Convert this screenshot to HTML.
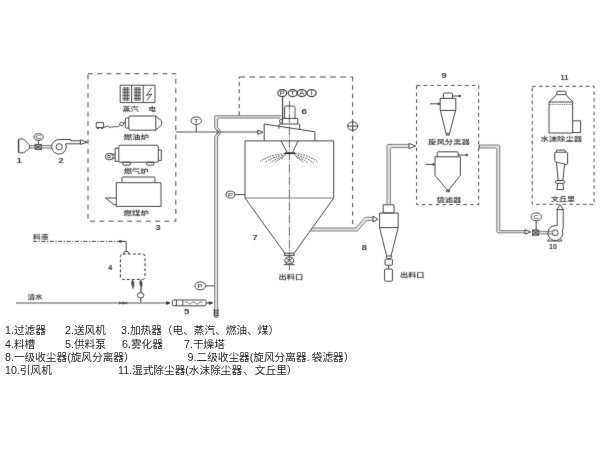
<!DOCTYPE html>
<html lang="zh-CN">
<head>
<meta charset="utf-8">
<title>喷雾干燥工艺流程图</title>
<style>
html,body{margin:0;padding:0;background:#fff;width:600px;height:450px;overflow:hidden}
#wrap{position:relative;width:600px;height:450px;background:#fff;overflow:hidden}
svg{position:absolute;left:0;top:0;display:block}
svg text{font-family:"Liberation Sans","Noto Sans CJK SC",sans-serif;stroke:none}
.legend{position:absolute;left:0;top:0;font-family:"Liberation Sans","Noto Sans CJK SC",sans-serif;font-size:10.67px;line-height:13.33px;color:#262626;font-weight:400;white-space:nowrap;opacity:0.999}
.legend span{position:absolute;white-space:nowrap}
.legend i{font-style:normal;display:inline-block}
</style>
</head>
<body>
<div id="wrap">
<svg width="600" height="450" viewBox="0 0 600 450">
<defs>
<filter id="bl" x="0" y="0" width="600" height="450" filterUnits="userSpaceOnUse" color-interpolation-filters="sRGB"><feConvolveMatrix order="3" kernelMatrix="0.0052 0.0619 0.0052 0.0619 0.7314 0.0619 0.0052 0.0619 0.0052" edgeMode="duplicate" preserveAlpha="false"/></filter>
<filter id="bt" x="0" y="0" width="600" height="450" filterUnits="userSpaceOnUse" color-interpolation-filters="sRGB"><feConvolveMatrix order="3" kernelMatrix="0.0113 0.0838 0.0113 0.0838 0.6193 0.0838 0.0113 0.0838 0.0113" edgeMode="duplicate" preserveAlpha="false"/></filter>
</defs>
<rect width="600" height="450" fill="#fff"/>
<g id="lines" fill="none" stroke="#444" stroke-width="1" stroke-linejoin="round" filter="url(#bl)">

<g id="pipefill" stroke="#e2e2e2" stroke-width="3" stroke-linejoin="round" fill="none">
<path d="M216.2,309 V136.8 L219.4,132 L216.2,127.6 V117.9 Q216.2,116.9 217.2,116.9 H281"/>
<path d="M310.6,229.5 H356.8 L365.8,218.9 H373"/>
<path d="M388.7,204.8 V147 Q388.7,146 389.7,146 H409"/>
<path d="M478.8,146.5 H497.3 Q498.3,146.5 498.3,147.5 V231.7 H525"/>
<path d="M29.6,146.7 H35 M41.4,146.7 H52 M538.8,232.7 H551.6"/>
</g>
<!-- 1 filter -->
<g id="eq-filter">
<path d="M18.4,139.8 Q18.4,139 19.4,139 L23.6,139 L29.6,145.2 L29.6,148.2 L23.6,152.8 L19.4,152.8 Q18.4,152.8 18.4,152 Z"/>
<path d="M18.6,139.4 V152.6" stroke-width="1.4"/>
<path d="M29.6,145.4 H35 M29.6,148 H35" stroke="#808080"/>
</g>
<!-- valve + C -->
<g id="eq-valve1">
<rect x="35" y="144.6" width="6.4" height="4.8" fill="#bbb"/>
<path d="M35,144.6 L41.4,149.4 M41.4,144.6 L35,149.4"/>
<path d="M38.4,140.4 V144.6"/>
<ellipse cx="38.6" cy="137" rx="4.6" ry="3.3"/>
<path d="M41.4,145.4 H51.6 M41.4,148 H52" stroke="#808080"/>
</g>
<!-- 2 fan -->
<g id="eq-fan1">
<path d="M65.6,143.8 A7.3,7.3 0 1 1 59.1,139.5 H70.8 V140.8 H80.4"/>
<path d="M65.6,143.8 H80.4"/>
<circle cx="59.2" cy="146.8" r="3.1"/>
<path d="M80.4,140 L87.6,142.2 L80.4,144.4 Z"/>
</g>

<!-- box 3 -->
<path d="M88,73.7 H175.8 V221.2 H88 Z" stroke="#4a4a4a" stroke-width="1" stroke-dasharray="4.8 4.5"/>

<!-- steam / electric -->
<g id="eq-steam">
<rect x="120.2" y="85.2" width="34.8" height="17.4"/>
<path d="M131.6,85.2 V102.6 M143.2,85.2 V102.6"/>
<path d="M124.8,87 V101 M127.4,87 V101 M136.2,87 V101 M138.8,87 V101" stroke-width="0.8"/>
<path d="M122.4,88 h7.2 M122.4,89.5 h7.2 M122.4,91 h7.2 M122.4,92.5 h7.2 M122.4,94 h7.2 M122.4,95.5 h7.2 M122.4,97 h7.2 M122.4,98.5 h7.2 M122.4,100 h7.2" stroke-width="0.8" stroke="#484848"/>
<path d="M133.8,88 h7.2 M133.8,89.5 h7.2 M133.8,91 h7.2 M133.8,92.5 h7.2 M133.8,94 h7.2 M133.8,95.5 h7.2 M133.8,97 h7.2 M133.8,98.5 h7.2 M133.8,100 h7.2" stroke-width="0.8" stroke="#484848"/>
<path d="M151.6,88 L146.4,95.4 L151.8,94 L146.6,100.6"/>
</g>

<!-- oil furnace -->
<g id="eq-oil">
<path d="M130,116 H155.8 L161.6,121 V124.8 L155.8,130.2 H130 Q128.8,130.2 128.8,129 V117.2 Q128.8,116 130,116 Z"/>
<path d="M128.8,118 H126.4 Q125.4,118 125.4,119 V127 Q125.4,128 126.4,128 H128.8"/>
<path d="M155.8,116 V130.2"/>
<ellipse cx="121.6" cy="124" rx="2" ry="1.6"/>
<path d="M123.4,123.2 L125.4,122.4"/>
<rect x="96.2" y="122.6" width="7.4" height="5"/>
<path d="M97,128.4 H98.8 M101,128.4 H102.8" stroke-width="1.2"/>
<path d="M103.6,127.4 L106,126.8 Q107.4,125.4 108.8,126.8 T111.6,126.8 L113.4,127 Q114.8,125.6 116.2,127 L119.6,125.6"/>
</g>

<!-- gas furnace -->
<g id="eq-gas">
<rect x="118.8" y="145.2" width="39.5" height="17" rx="1.2"/>
<path d="M118.8,148.2 H115.2 V161.4 H118.8 M158.3,150 H161.3 V160.4 H158.3"/>
<rect x="122.8" y="162.2" width="7.5" height="3" rx="0.8"/>
<rect x="146.7" y="162.2" width="7" height="3" rx="0.8"/>
<ellipse cx="109.3" cy="156.6" rx="4" ry="3.2"/>
<ellipse cx="109" cy="156.6" rx="1.7" ry="1.2"/>
<path d="M110.6,153.6 L115.2,154.6 M111.6,159.2 L115.2,157.6"/>
</g>

<!-- coal furnace -->
<g id="eq-coal">
<path d="M122,182.7 V178 Q122,177 123,177 H154 Q155,177 155,178 V182.7"/>
<rect x="116.3" y="182.7" width="44.7" height="23.7"/>
<path d="M116.3,198 H105.4 L114,204.6 L116.3,205"/>
</g>

<!-- T instrument and line 3 -> tower -->
<g id="lineT">
<path d="M175.8,132 H258" stroke="#555"/>
<path d="M257.8,130.2 L263,132.2 L257.8,134.4 Z"/>
<path d="M196.2,124.4 V132"/>
<ellipse cx="196.2" cy="120.7" rx="5.2" ry="3.8"/>
</g>

<!-- feed pipe (double line) -->
<g id="feedpipe" stroke="#808080">
<path d="M214.7,309 V136.6 L217.7,132 L214.7,128 V116.8 Q214.7,115.7 215.7,115.7 H281.6"/>
<path d="M217.6,309 V137 L221.2,132 L217.6,127.4 V119 Q217.6,118 218.6,118 H280"/>
<path d="M217,129.6 Q220,132 217,134.6" stroke="#555"/>
<ellipse cx="281" cy="121.2" rx="1.6" ry="1.8" stroke="#555"/>
<path d="M213.4,310.2 h5.4 M213.8,312 h4.6 M213.4,313.8 h5.4 M213.8,315.6 h4.6 M214.6,317.2 h3" stroke="#444"/>
<path d="M214.4,309 V316.8 M217.8,309 V316.8" stroke="#444"/>
</g>

<!-- P instrument on pipe -->
<g id="pipeP">
<ellipse cx="200.2" cy="285.9" rx="5.3" ry="4"/>
<path d="M205.5,285.9 H214.7"/>
</g>

<!-- control dashed loop -->
<g id="loop">
<path d="M239.2,115.6 V77" stroke-dasharray="4.2 3.2"/>
<path d="M239.2,77 H352.7" stroke-dasharray="5.8 4.3"/>
<path d="M352.7,77 V228" stroke-dasharray="4.4 4"/>
<ellipse cx="352.7" cy="126.1" rx="5" ry="4.3"/>
<path d="M347,126.1 H358.4 M352.7,121 V131.4"/>
</g>

<!-- instruments P T A I -->
<g id="ptai" stroke="#333" stroke-width="1.1">
<ellipse cx="282.3" cy="93.1" rx="4.5" ry="3.5"/>
<ellipse cx="292.7" cy="93.1" rx="4.5" ry="3.5"/>
<ellipse cx="301.8" cy="93.1" rx="4.5" ry="3.5"/>
<ellipse cx="311.6" cy="93.1" rx="4.6" ry="3.5"/>
<path d="M282.6,96.6 V119.6"/>
</g>

<!-- 7 tower -->
<g id="tower">
<path d="M245,140.9 H333.7 V198 L294.2,253.2 M245,140.9 V198 L284.8,253.2"/>
<path d="M245,198 H333.7" stroke-width="0.7"/>
<path d="M264.2,140.9 V124 L314.9,131.8 V140.9"/>
<path d="M279,128.7 V125 Q279,124 280,124 H298.6 Q299.7,124 299.7,125 V129.8"/>
<path d="M282.3,124 V118.4 H297.7 V124"/>
<path d="M284.6,118.4 V107.4 Q284.6,106 286,106 H293.6 Q295,106 295,107.4 V118.4"/>
<path d="M289.4,101 V270" stroke-dasharray="9 1.2 1.2 1.2" stroke-width="0.8"/>
<path d="M281.2,141 L287,152 M298,141 L292.8,152"/>
<path d="M285,153.2 H295" stroke="#222" stroke-width="1.8"/>
<path d="M285,153.6 Q270,154.4 260,161.6 M285.6,155 Q273,156.6 264.6,162.6 M284,156.6 Q276,158.6 270.6,162.6 M283,158 Q278,159.6 275,162.8" stroke-dasharray="1.6 1.2" stroke-width="1" stroke="#333"/>
<path d="M295,153.6 Q309,154.6 318,162.4 M294.6,155 Q306,156.8 313.6,163 M296,156.6 Q303,158.6 308,163 M297,158 Q301,159.8 304,163" stroke-dasharray="1.6 1.2" stroke-width="1" stroke="#333"/>
<path d="M234.8,194.6 H245"/>
<ellipse cx="230.4" cy="194.6" rx="4.4" ry="3.5"/>
<path d="M284.2,253.2 H294.4 M284.2,255.4 H294.4 M284.8,253.2 V255.4 M294,253.2 V255.4"/>
<ellipse cx="289.3" cy="260.4" rx="4.4" ry="3.5"/>
<path d="M286.2,258 L292.4,262.8 M292.4,258 L286.2,262.8"/>
<path d="M283.7,264.7 H294.8"/>
</g>

<!-- tower -> cyclone pipe -->
<g id="pipe78" stroke="#808080">
<path d="M311.6,228 H356 L365,217.2 H373"/>
<path d="M309.4,231 H357.6 L366.6,220.6 H373"/>
<path d="M373,216.2 L378,219.4 L373,222 Z" stroke="#444"/>
</g>

<!-- 8 cyclone -->
<g id="cyc8">
<rect x="383.2" y="204.8" width="10.8" height="8.2"/>
<rect x="379.6" y="213" width="18.6" height="14.6"/>
<path d="M379.6,227.6 L386.6,256 M398.2,227.6 L391,256"/>
<path d="M386,256 H392 L390.6,258.6 H387.4 Z"/>
<rect x="385" y="259.2" width="7.4" height="6" rx="0.8"/>
<path d="M388.6,265.2 V269"/>
<rect x="384.6" y="269" width="7.8" height="12.2" rx="1"/>
</g>

<!-- cyclone -> box 9 pipe -->
<g id="pipe89" stroke="#808080">
<path d="M387,204.8 V145.4 Q387,144.4 388,144.4 H409"/>
<path d="M390.4,204.8 V148.4 Q390.4,147.6 391.4,147.6 H409"/>
<path d="M409,143.4 L415.8,146 L409,148.6 Z" stroke="#444"/>
</g>

<!-- box 9 -->
<path d="M416.6,85.4 H478.7 V204.6 H416.6 Z" stroke="#484848" stroke-dasharray="3.6 3.3"/>
<g id="cyc9">
<path d="M443.4,98.4 V94 Q443.4,93 444.4,93 H451.4 Q452.4,93 452.4,94 V98.4"/>
<rect x="440.2" y="98.4" width="15.6" height="12"/>
<path d="M440.4,110.4 L446,133.2 M455.6,110.4 L449.6,133.2"/>
<path d="M446.2,133.4 H449.4 V135.2 H446.2 Z"/>
<path d="M430,103.8 H438.6"/>
<path d="M438.2,102.8 L440,103.8 L438.2,104.8 Z" fill="#444"/>
<path d="M452.4,96 H459.6"/>
<path d="M459.2,95 L461,96 L459.2,97 Z" fill="#444"/>
</g>
<g id="bag">
<path d="M437.2,156.8 V152.8 Q437.2,151.8 438.2,151.8 H457.2 Q458.2,151.8 458.2,152.8 V156.8"/>
<path d="M435,156.8 H460.4 V175.4 L448.6,190.2 H447.4 L435,175.4 Z"/>
<path d="M446.6,190.4 H449.6 V191.8 H446.6 Z"/>
<path d="M425.4,164.4 H433.4"/>
<path d="M433,163.4 L434.8,164.4 L433,165.4 Z" fill="#444"/>
<path d="M458.2,155 H466.6"/>
<path d="M466.2,154 L468,155 L466.2,156 Z" fill="#444"/>
</g>

<!-- box 9 -> fan 10 pipe -->
<g id="pipe910" stroke="#808080">
<path d="M478.8,145 H498.8 Q499.8,145 499.8,146 V230.6 H525"/>
<path d="M478.8,148 H495.8 Q496.8,148 496.8,149 V231.8 Q496.8,232.8 497.8,232.8 H525"/>
<path d="M479.2,145 V148" stroke="#444"/>
<path d="M525,229.6 L530.6,232 L525,234 Z" stroke="#444"/>
</g>

<!-- valve + C + fan 10 -->
<g id="fan10">
<rect x="532.6" y="230" width="6.2" height="5.2" fill="#bbb"/>
<path d="M532.6,230 L538.8,235.2 M538.8,230 L532.6,235.2"/>
<path d="M536.2,220.8 V230"/>
<ellipse cx="536.2" cy="216.8" rx="5.2" ry="4"/>
<path d="M538.8,231.4 H551.6 M538.8,234 H551.8" stroke="#808080"/>
<path d="M557.2,225.8 A7.5,7.5 0 1 0 562.4,230.4 L563.2,228 V209 M557.2,225.8 V209"/>
<circle cx="555.2" cy="232.7" r="3"/>
<path d="M557,209.6 L560.2,204.8 L563.4,209.6 Z"/>
<path d="M549.4,238.6 L547.7,241 H562 L560.4,238.6"/>
</g>

<!-- box 11 -->
<path d="M532.2,86.3 H594.1 V204.3 H532.2 Z" stroke="#484848" stroke-dasharray="3.6 3.1"/>
<g id="scrub">
<path d="M556.8,94.6 V92.2 Q556.8,91.3 557.8,91.3 H565 Q566,91.3 566,92.2 V94.6"/>
<path d="M556.8,94.6 H566 L572.7,102 V133 H549 V102 Z"/>
<path d="M549,102 H572.7"/>
<path d="M549.6,104.4 H572.4" stroke-dasharray="1.4 1" stroke-width="0.8"/>
<path d="M572.7,120.8 H580.6 V132.6 H572.7"/>
</g>
<g id="venturi">
<path d="M556.4,152.2 V150.9 Q556.4,150 557.3,150 H564.4 Q565.3,150 565.3,150.9 V152.2"/>
<path d="M554.7,153.2 Q554.7,152.2 555.7,152.2 H566.6 Q567.6,152.2 567.6,153.2 V164 Q566.4,165.2 564.6,164.6 L562.8,180.4 H558.2 L556.4,162.2 Q554.7,161.8 554.7,160.6 Z"/>
<path d="M556,162 L566,164.4"/>
<rect x="555.4" y="180.6" width="9.4" height="2.8" rx="1.3"/>
<path d="M557.8,183.4 L556.8,189.6 H563.8 L562.8,183.4"/>
</g>

<!-- feed: 料液 / tank 4 / pump / water -->
<g id="feed">
<path d="M33,241.4 H122" stroke-dasharray="4 1.6 1.2 1.6"/>
<path d="M119.6,240.2 L123.4,241.4 L119.6,242.6 Z" fill="#444" stroke-width="0.6"/>
<path d="M123,241.4 H126.2"/>
<path d="M126.2,241.4 V252"/>
<path d="M123.6,253.8 L124.4,251.6 H128 L128.8,253.8"/>
<rect x="120.4" y="254" width="24.6" height="25.4" rx="2.4" stroke="#333" stroke-dasharray="3 2"/>
<path d="M132.8,279.4 V281 l-1,0.8 l2,0.8 l-2,0.8 l2,0.8 l-2,0.8 l2,0.8 l-1,0.8 V288.4" stroke="#333" stroke-width="1.2"/>
<path d="M141,279.4 V281 l-1,0.8 l2,0.8 l-2,0.8 l2,0.8 l-2,0.8 l2,0.8 l-1,0.8 V292.6" stroke="#333" stroke-width="1.2"/>
<ellipse cx="140.6" cy="295.3" rx="3.2" ry="2.7"/>
<path d="M140.8,298 V303"/>
<path d="M16,303 H167" stroke="#555"/>
<path d="M119.4,301.9 V304.1 L122.8,301.9 V304.1 Z M123.6,301.9 V304.1 L127,301.9 V304.1 Z" stroke-width="0.7"/>
<path d="M166.6,301.8 L170,303 L166.6,304.2 Z" fill="#333" stroke="#333"/>
<rect x="172.4" y="300" width="33.7" height="5.8" rx="1.4"/>
<path d="M176.4,300 V305.8 M182.8,300 V305.8"/>
<path d="M184.6,303 q1.8,-2.4 3.6,0 t3.6,0 t3.6,0 t3.6,0 t3.6,0" stroke-width="0.7"/>
<path d="M206.2,303 H209"/>
<path d="M209.2,301.8 L212.6,303 L209.2,304.2 Z" fill="#333" stroke="#333"/>
</g>
</g>

<!-- diagram labels -->
<g id="labels" fill="#444" font-size="5.7" font-weight="700" filter="url(#bt)">
<g font-size="6.5" font-weight="700" fill="#363636" text-anchor="middle">
<text transform="translate(19.1,163) scale(1.5,1)">1</text>
<text transform="translate(61,163) scale(1.5,1)">2</text>
<text transform="translate(158,229.6) scale(1.5,1)">3</text>
<text transform="translate(110.2,269.6) scale(1.1,1)" fill="#222">4</text>
<text transform="translate(186.8,314.4) scale(1.5,1)">5</text>
<text transform="translate(304.3,114) scale(1.5,1)">6</text>
<text transform="translate(255,239.6) scale(1.5,1)">7</text>
<text transform="translate(364.3,249.7) scale(1.5,1)">8</text>
<text transform="translate(444,78) scale(1.5,1)">9</text>
<text transform="translate(564.4,80) scale(1.15,1)">11</text>
<text transform="translate(553,249.2) scale(1.08,1)">10</text>
</g>
<g font-size="6.2" font-weight="400" fill="#222" text-anchor="middle">
<text transform="translate(38.6,139) scale(1.3,1)">C</text>
<text transform="translate(196.2,122.7) scale(1.3,1)">T</text>
<text transform="translate(200,287.9) scale(1.3,1)">P</text>
<text transform="translate(230.4,196.6) scale(1.3,1)">P</text>
<text transform="translate(282.3,95.1) scale(1.3,1)">P</text>
<text transform="translate(292.7,95.1) scale(1.3,1)">T</text>
<text transform="translate(301.8,95.1) scale(1.3,1)">A</text>
<text transform="translate(311.6,95.1) scale(1.3,1)">I</text>
<text transform="translate(536.2,218.8) scale(1.3,1)">C</text>
</g>
<text x="122.4" y="110.8" textLength="16.2" lengthAdjust="spacingAndGlyphs">蒸汽</text>
<text x="148.4" y="110.8" textLength="7.6" lengthAdjust="spacingAndGlyphs">电</text>
<text x="123.4" y="138.8" textLength="25.8" lengthAdjust="spacingAndGlyphs">燃油炉</text>
<text x="123.8" y="172.8" textLength="24.8" lengthAdjust="spacingAndGlyphs">燃气炉</text>
<text x="123.6" y="214.6" textLength="25.2" lengthAdjust="spacingAndGlyphs">燃煤炉</text>
<text x="33" y="238.6" textLength="15.4" lengthAdjust="spacingAndGlyphs">料液</text>
<text x="27.4" y="299.4" textLength="15.4" lengthAdjust="spacingAndGlyphs">清水</text>
<text x="278.6" y="279.4" textLength="24.6" lengthAdjust="spacingAndGlyphs">出料口</text>
<text x="400" y="277" textLength="24.4" lengthAdjust="spacingAndGlyphs">出料口</text>
<text x="428" y="144.2" textLength="42" lengthAdjust="spacingAndGlyphs">旋风分离器</text>
<text x="436.4" y="202" textLength="25" lengthAdjust="spacingAndGlyphs">袋滤器</text>
<text x="540.4" y="141.2" textLength="41.8" lengthAdjust="spacingAndGlyphs">水沫除尘器</text>
<text x="551" y="200.6" textLength="24" lengthAdjust="spacingAndGlyphs">文丘里</text>
</g>
</svg>

<div class="legend">
<span style="left:5px;top:324.3px">1.过滤器</span>
<span style="left:65px;top:324.3px">2.送风机</span>
<span style="left:121px;top:324.3px">3.加热器（电、蒸汽、燃油、煤）</span>
<span style="left:5px;top:337.6px">4.料槽</span>
<span style="left:65px;top:337.6px">5.供料泵</span>
<span style="left:122px;top:337.6px">6.雾化器</span>
<span style="left:184px;top:337.6px">7.干燥塔</span>
<span style="left:5px;top:350.9px">8.一级收尘器(旋风分离器）</span>
<span style="left:187.6px;top:350.9px">9.二级收尘器(旋风分离器<i style="width:5.2px">.</i>袋滤器）</span>
<span style="left:5px;top:364.3px">10.引风机</span>
<span style="left:118px;top:364.3px">11.湿式除尘器(水沫除尘器<i style="width:12.7px;text-align:center">、</i>文丘里）</span>
</div>
</div>
</body>
</html>
